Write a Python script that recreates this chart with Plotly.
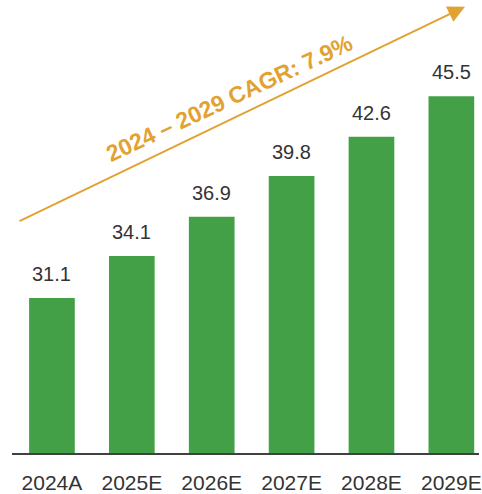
import plotly.graph_objects as go

categories = ["2024A", "2025E", "2026E", "2027E", "2028E", "2029E"]
values = [31.1, 34.1, 36.9, 39.8, 42.6, 45.5]
value_labels = ["31.1", "34.1", "36.9", "39.8", "42.6", "45.5"]
cagr_text = "2024 – 2029 CAGR: 7.9%"

GREEN = "#43A047"
GOLD = "#E2A232"
TEXT = "#333333"
FONT = "Arial, Liberation Sans, sans-serif"

fig = go.Figure()
fig.add_trace(go.Bar(
    x=categories, y=values,
    marker=dict(color=GREEN, line=dict(width=0)),
    width=0.572,
    hoverinfo="skip",
))

for c, v, t in zip(categories, values, value_labels):
    fig.add_annotation(
        x=c, y=v, text=t, showarrow=False,
        yanchor="bottom", yshift=11,
        font=dict(family=FONT, size=20, color=TEXT),
    )

# CAGR arrow
fig.add_annotation(
    x=0.970, y=0.985, xref="paper", yref="paper",
    ax=-447, ay=215, axref="pixel", ayref="pixel",
    text="", showarrow=True,
    arrowhead=2, arrowsize=1.7, arrowwidth=2, arrowcolor=GOLD,
)
fig.add_annotation(
    x=0.4660, y=0.784, xref="paper", yref="paper",
    xanchor="center", yanchor="middle",
    text="<b>" + cagr_text + "</b>", showarrow=False,
    textangle=-25,
    font=dict(family=FONT, size=23, color=GOLD),
)

fig.update_layout(
    width=482, height=494,
    margin=dict(l=12, r=0, t=0, b=41),
    paper_bgcolor="white", plot_bgcolor="white",
    showlegend=False,
    bargap=0.4,
    xaxis=dict(
        type="category", range=[-0.5, 5.346],
        showline=True, linecolor="#404040", linewidth=2,
        showgrid=False, zeroline=False,
        ticks="outside", ticklen=10, tickcolor="rgba(0,0,0,0)",
        tickfont=dict(family=FONT, size=21, color=TEXT),
        fixedrange=True,
    ),
    yaxis=dict(
        range=[20.05, 52.36], visible=False,
        showgrid=False, zeroline=False, fixedrange=True,
    ),
)

fig.write_html(
    "out.html",
    config={"displayModeBar": False},
    post_script="document.body.style.margin='0';document.body.style.padding='0';",
)
